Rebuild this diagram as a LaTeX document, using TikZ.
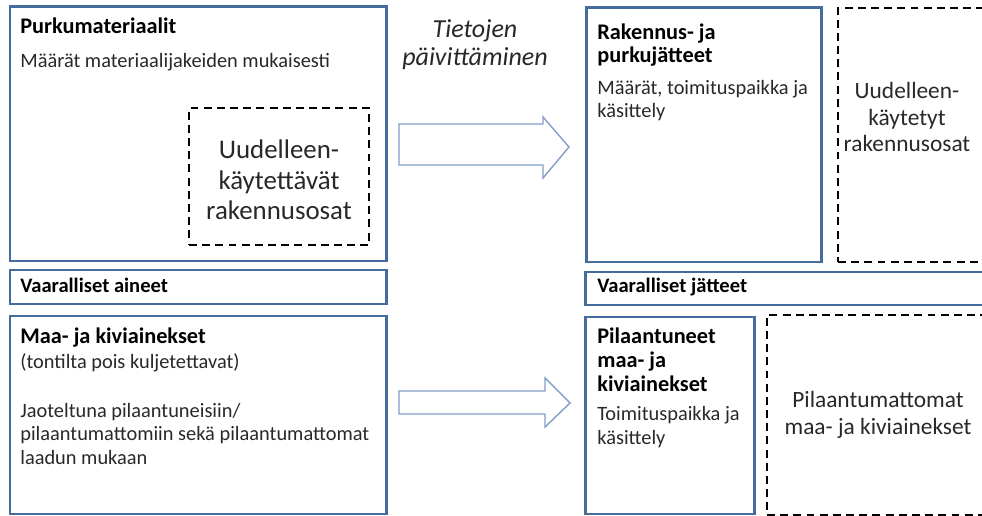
\documentclass[tikz,border=0pt]{standalone}
\usepackage{fontspec}
\setmainfont{Carlito}
\usepackage{xcolor}
\usetikzlibrary{fit}

\definecolor{boxblue}{RGB}{70,108,158}
\definecolor{arrowblue}{RGB}{130,158,200}
\definecolor{txtgray}{RGB}{40,40,40}

\begin{document}
\begin{tikzpicture}[x=0.02cm, y=-0.02cm,
    bluebox/.style={draw=boxblue, line width=1.7pt, inner sep=0pt},
    dashbox/.style={draw=black, line width=1.1pt, dash pattern=on 4.5pt off 3pt, inner sep=0pt},
    head/.style={anchor=base west, inner sep=0pt, align=left, font=\fontsize{12.7}{13.6}\selectfont\bfseries},
    band/.style={anchor=base west, inner sep=0pt, font=\fontsize{11.7}{13}\selectfont\bfseries},
    small/.style={anchor=base west, inner sep=0pt, align=left, text=txtgray, font=\fontsize{11.6}{13.3}\selectfont},
    big/.style={inner sep=0pt, align=center, text=txtgray, font=\fontsize{15.3}{17.5}\selectfont},
    mid/.style={inner sep=0pt, align=center, text=txtgray, font=\fontsize{13.3}{15.3}\selectfont},
    blockarrow/.style={draw=arrowblue, line width=0.8pt, fill=white}]

    \useasboundingbox (0,0) rectangle (982,516);
    \clip (0,0) rectangle (982,516);

    % vasen puoli
    \node (purku) [bluebox, fit={(10,7) (386,261)}] {};
    \node (purkuT) at (20,34) [head] {Purkumateriaalit};
    \node (purkuM) at (20,68) [small] {Määrät materiaalijakeiden mukaisesti};
    \node (osat) [dashbox, fit={(189,108) (369,245)}] {};
    \node (osatT) at (279,180) [big] {Uudelleen-\\käytettävät\\rakennusosat};

    \node (aineet) [bluebox, fit={(10,270) (386,304)}] {};
    \node (aineetT) at (20,293) [band] {Vaaralliset aineet};

    \node (maa) [bluebox, fit={(10,316) (386,514)}] {};
    \node (maaT) at (20,343) [head] {Maa- ja kiviainekset};
    \node (maaP) at (20,368) [small] {(tontilta pois kuljetettavat)};
    \node (maaM) at (20,464) [small] {Jaoteltuna pilaantuneisiin/\\pilaantumattomiin sekä pilaantumattomat\\laadun mukaan};

    % nuolet
    \node (paivitys) at (475,66) [anchor=base, inner sep=0pt, align=center, text=txtgray,
        font=\fontsize{14.8}{16.5}\selectfont\itshape] {Tietojen\\päivittäminen};
    \draw[blockarrow] (399,124) -- (543,124) -- (543,117) -- (569,147) -- (543,178) -- (543,165) -- (399,165) -- cycle;
    \draw[blockarrow] (399,391) -- (545,391) -- (545,378) -- (570,403) -- (545,427) -- (545,414) -- (399,414) -- cycle;

    % oikea puoli
    \node (jate) [bluebox, fit={(586,8) (821,262)}] {};
    \node (jateT) at (597,63) [head] {Rakennus- ja\\purkujätteet};
    \node (jateM) at (597,118) [small] {Määrät, toimituspaikka ja\\käsittely};
    \node (kaytetyt) [dashbox, fit={(838,8) (995,262)}] {};
    \node (kaytetytT) at (907,117) [mid] {Uudelleen-\\käytetyt\\rakennusosat};

    \node (jatteet) [bluebox, fit={(585,272) (995,305)}] {};
    \node (jatteetT) at (597,293) [band] {Vaaralliset jätteet};

    \node (pil) [bluebox, fit={(585,317) (754,514)}] {};
    \node (pilT) at (597,391) [head] {Pilaantuneet\\maa- ja\\kiviainekset};
    \node (pilM) at (597,444) [small] {Toimituspaikka ja\\käsittely};
    \node (puhdas) [dashbox, fit={(767,315) (995,515)}] {};
    \node (puhdasT) at (878,415) [mid] {Pilaantumattomat\\maa- ja kiviainekset};
\end{tikzpicture}
\end{document}
